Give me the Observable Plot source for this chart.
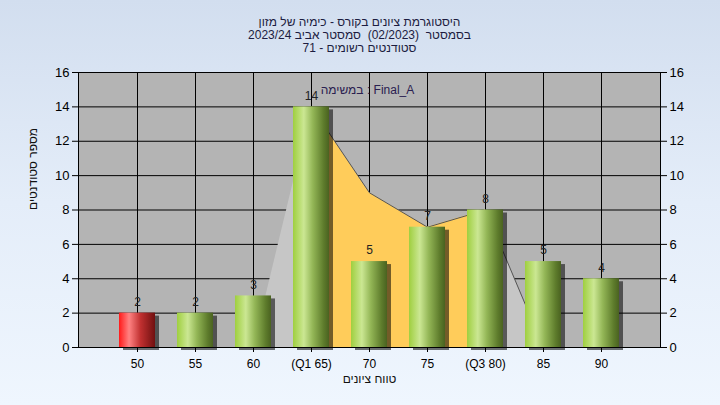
<!DOCTYPE html>
<html><head><meta charset="utf-8">
<script src="https://cdn.jsdelivr.net/npm/d3@7"></script>
<script src="https://cdn.jsdelivr.net/npm/@observablehq/plot@0.6"></script>
<style>
html,body{margin:0;padding:0;}
body{width:720px;height:405px;background:linear-gradient(180deg,#d2deef 0%,#e4edf9 50%,#eff6fe 100%);overflow:hidden;font-family:"Liberation Sans",Arial,sans-serif;}
</style></head><body><div id="chart"></div>
<script>
// ---- data ----
const titleLines = [
  "היסטוגרמת ציונים בקורס - כימיה של מזון",
  "בסמסטר  (02/2023)  סמסטר אביב 2023/24",
  "71 - סטודנטים רשומים"
];
const legendText = "במשימה : Final_A";
const xTitle = "טווח ציונים";
const yTitle = "מספר סטודנטים";
const grades = ["50", "55", "60", "(Q1 65)", "70", "75", "(Q3 80)", "85", "90"];
const counts = [2, 2, 3, 14, 5, 7, 8, 5, 4];
const status = ["fail", "pass", "pass", "pass", "pass", "pass", "pass", "pass", "pass"];
const curveGrades = ["60", "(Q1 65)", "70", "75", "(Q3 80)", "85"];
const curveValues = [0, 14, 9, 7, 8, 0];
const iqrGrades = ["(Q1 65)", "70", "75", "(Q3 80)"];
const outlineGrades = ["(Q1 65)", "70", "75", "(Q3 80)", "85"];
const yTicks = [0, 2, 4, 6, 8, 10, 12, 14, 16];

// ---- tables ----
const bars = grades.map((g, i) => ({g, n: counts[i], s: status[i]}));
const curve = curveGrades.map((g, i) => ({g, v: curveValues[i]}));
const iqr = curve.filter(d => iqrGrades.includes(d.g));
const outline = curve.filter(d => outlineGrades.includes(d.g));

const font = "'Liberation Sans', Arial, sans-serif";
const plot = Plot.plot({
  width: 720, height: 405,
  marginLeft: 78, marginRight: 60, marginTop: 72, marginBottom: 58,
  style: {background: "transparent", fontFamily: font, fontSize: "12px", color: "#000", overflow: "visible"},
  x: {type: "band", domain: grades, paddingInner: 0.38, paddingOuter: 0.69, label: null},
  y: {domain: [0, 16], label: null},
  marks: [
    Plot.frame({fill: "#b4b4b4"}),
    Plot.gridX({stroke: "#000", strokeOpacity: 1, strokeWidth: 1}),
    Plot.gridY(yTicks, {stroke: "#000", strokeOpacity: 1, strokeWidth: 1}),
    Plot.areaY(curve, {x: "g", y: "v", fill: "#c6c6c6"}),
    Plot.areaY(iqr, {x: "g", y: "v", fill: "#ffcc5a"}),
    Plot.line(outline, {x: "g", y: "v", stroke: "#555", strokeWidth: 1}),
    Plot.frame({stroke: "#000", strokeWidth: 1}),
    Plot.barY(bars, {x: "g", y: "n", fill: "#000", fillOpacity: 0.55, dx: 4, dy: 3, ariaLabel: "shadow"}),
    Plot.barY(bars, {filter: d => d.s === "fail", x: "g", y: "n", fill: "url(#gRed)"}),
    Plot.barY(bars, {filter: d => d.s !== "fail", x: "g", y: "n", fill: "url(#gGreen)"}),
    Plot.text(bars, {x: "g", y: "n", text: d => String(d.n), dy: -11, fill: "#222", fontSize: 12}),
    Plot.axisX({tickSize: 5, tickPadding: 7, fontSize: 12, label: null}),
    Plot.axisY(yTicks, {anchor: "left", tickSize: 6, tickPadding: 3, fontSize: 13, label: null}),
    Plot.axisY(yTicks, {anchor: "right", tickSize: 6, tickPadding: 3, fontSize: 13, label: null}),
    Plot.text([titleLines[0]], {frameAnchor: "top", dx: -10, dy: -55, fontSize: 12, fill: "#1c1c40", ariaLabel: "rtl"}),
    Plot.text([titleLines[1]], {frameAnchor: "top", dx: -10, dy: -42, fontSize: 12, fill: "#1c1c40", ariaLabel: "rtl"}),
    Plot.text([titleLines[2]], {frameAnchor: "top", dx: -10, dy: -29, fontSize: 12, fill: "#1c1c40", ariaLabel: "rtl"}),
    Plot.text([legendText], {frameAnchor: "top", dx: -2, dy: 13, fontSize: 12, fill: "#2a2050"}),
    Plot.text([xTitle], {frameAnchor: "bottom", dy: 35, fontSize: 12, fill: "#111", ariaLabel: "rtl"}),
    Plot.text([yTitle], {frameAnchor: "left", dx: -45, rotate: -90, fontSize: 12, fill: "#111", ariaLabel: "rtl"})
  ]
});

const svg = d3.select(plot);
const defs = svg.insert("defs", ":first-child");
const green = defs.append("linearGradient").attr("id", "gGreen").attr("x1", "0").attr("x2", "1").attr("y1", "0").attr("y2", "0");
[["0%", "#9fcf3f"], ["30%", "#cbe793"], ["55%", "#93b656"], ["85%", "#5e7c2c"], ["100%", "#4a6220"]]
  .forEach(([o, c]) => green.append("stop").attr("offset", o).attr("stop-color", c));
const red = defs.append("linearGradient").attr("id", "gRed").attr("x1", "0").attr("x2", "1").attr("y1", "0").attr("y2", "0");
[["0%", "#ff1a1a"], ["28%", "#ff8282"], ["60%", "#c03030"], ["100%", "#701010"]]
  .forEach(([o, c]) => red.append("stop").attr("offset", o).attr("stop-color", c));
const blur = defs.append("filter").attr("id", "blur").attr("x", "-50%").attr("y", "-20%").attr("width", "200%").attr("height", "140%");
blur.append("feGaussianBlur").attr("stdDeviation", 2);
svg.selectAll("g[aria-label=shadow]").attr("filter", "url(#blur)");
svg.selectAll("g[aria-label=rtl] text").attr("direction", "rtl").style("unicode-bidi", "embed");

document.getElementById("chart").appendChild(plot);
</script>
</body></html>
